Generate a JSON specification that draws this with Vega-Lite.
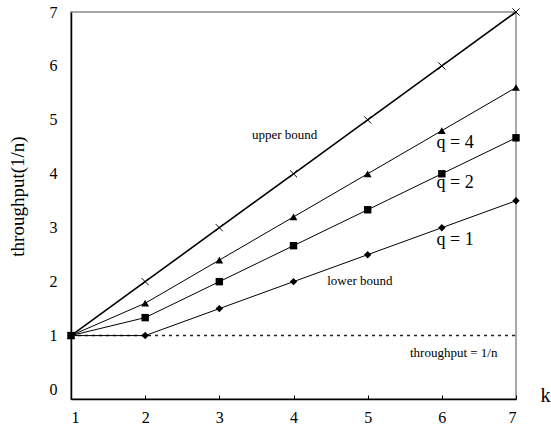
{
  "$schema": "https://vega.github.io/schema/vega-lite/v6.json",
  "width": 445,
  "height": 387,
  "autosize": "none",
  "padding": {"left": 71, "top": 12, "right": 35, "bottom": 26},
  "background": "white",
  "config": {
    "font": "Liberation Serif",
    "view": {"stroke": "#8a8a8a", "strokeWidth": 1.5},
    "axis": {"grid": false, "labelColor": "black", "domainColor": "black", "domainWidth": 1.5, "tickColor": "black", "labelFont": "Liberation Serif", "titleFont": "Liberation Serif", "titleFontWeight": "normal", "titleColor": "black", "labelFontSize": 16, "titleFontSize": 19}
  },
  "datasets": {
    "curves": [
      {"series": "upper", "k": 1, "t": 1}, {"series": "upper", "k": 2, "t": 2}, {"series": "upper", "k": 3, "t": 3}, {"series": "upper", "k": 4, "t": 4}, {"series": "upper", "k": 5, "t": 5}, {"series": "upper", "k": 6, "t": 6}, {"series": "upper", "k": 7, "t": 7},
      {"series": "q4", "k": 1, "t": 1}, {"series": "q4", "k": 2, "t": 1.6}, {"series": "q4", "k": 3, "t": 2.4}, {"series": "q4", "k": 4, "t": 3.2}, {"series": "q4", "k": 5, "t": 4}, {"series": "q4", "k": 6, "t": 4.8}, {"series": "q4", "k": 7, "t": 5.6},
      {"series": "q2", "k": 1, "t": 1}, {"series": "q2", "k": 2, "t": 1.333}, {"series": "q2", "k": 3, "t": 2}, {"series": "q2", "k": 4, "t": 2.667}, {"series": "q2", "k": 5, "t": 3.333}, {"series": "q2", "k": 6, "t": 4}, {"series": "q2", "k": 7, "t": 4.667},
      {"series": "q1", "k": 1, "t": 1}, {"series": "q1", "k": 2, "t": 1}, {"series": "q1", "k": 3, "t": 1.5}, {"series": "q1", "k": 4, "t": 2}, {"series": "q1", "k": 5, "t": 2.5}, {"series": "q1", "k": 6, "t": 3}, {"series": "q1", "k": 7, "t": 3.5}
    ],
    "base": [{"k": 1, "t": 1}, {"k": 7, "t": 1}],
    "labels": [
      {"label": "upper bound", "k": 3.88, "t": 4.71, "fs": "small"},
      {"label": "q = 4", "k": 6.18, "t": 4.565, "fs": "big"},
      {"label": "q = 2", "k": 6.18, "t": 3.82, "fs": "big"},
      {"label": "q = 1", "k": 6.18, "t": 2.77, "fs": "big"},
      {"label": "lower bound", "k": 4.895, "t": 2.006, "fs": "small"},
      {"label": "throughput = 1/n", "k": 6.16, "t": 0.67, "fs": "small"}
    ]
  },
  "encoding": {
    "x": {"field": "k", "type": "quantitative", "scale": {"domain": [1, 7], "nice": false, "zero": false},
      "axis": {"values": [1, 2, 3, 4, 5, 6, 7], "title": "k", "tickSize": -4, "labelPadding": 14, "titleFontSize": 20, "titleX": 474, "titleY": -4, "titleAlign": "center", "titleBaseline": "middle"}},
    "y": {"field": "t", "type": "quantitative", "scale": {"domain": [-0.176, 7], "nice": false, "zero": false},
      "axis": {"values": [0, 1, 2, 3, 4, 5, 6, 7], "title": "throughput(1/n)", "ticks": false, "labelPadding": 14, "titleX": -54, "titleY": 184, "titleAngle": -90, "titleAlign": "center", "titleBaseline": "middle"}}
  },
  "layer": [
    {"data": {"name": "base"}, "mark": {"type": "line", "color": "#222", "strokeWidth": 1.5, "strokeDash": [3, 4]}},
    {"data": {"name": "curves"}, "transform": [{"filter": "datum.series == 'upper'"}], "mark": {"type": "line", "color": "black", "strokeWidth": 1.6}},
    {"data": {"name": "curves"}, "transform": [{"filter": "datum.series != 'upper'"}], "mark": {"type": "line", "color": "black", "strokeWidth": 1}, "encoding": {"detail": {"field": "series"}}},
    {"data": {"name": "curves"}, "transform": [{"filter": "datum.series == 'upper'"}], "mark": {"type": "point", "shape": "M-1,-1L1,1M1,-1L-1,1", "filled": false, "stroke": "black", "strokeWidth": 1, "size": 50, "opacity": 1}},
    {"data": {"name": "curves"}, "transform": [{"filter": "datum.series == 'q4'"}], "mark": {"type": "point", "shape": "triangle-up", "filled": true, "color": "black", "opacity": 1, "size": 60}},
    {"data": {"name": "curves"}, "transform": [{"filter": "datum.series == 'q2'"}], "mark": {"type": "point", "shape": "square", "filled": true, "color": "black", "opacity": 1, "size": 55}},
    {"data": {"name": "curves"}, "transform": [{"filter": "datum.series == 'q1'"}], "mark": {"type": "point", "shape": "diamond", "filled": true, "color": "black", "opacity": 1, "size": 55}},
    {"data": {"name": "labels"}, "transform": [{"filter": "datum.fs == 'small'"}], "mark": {"type": "text", "color": "black", "align": "center", "baseline": "middle", "font": "Liberation Serif", "fontSize": 13},
      "encoding": {"text": {"field": "label"}}},
    {"data": {"name": "labels"}, "transform": [{"filter": "datum.fs == 'big'"}], "mark": {"type": "text", "color": "black", "align": "center", "baseline": "middle", "font": "Liberation Serif", "fontSize": 18},
      "encoding": {"text": {"field": "label"}}}
  ]
}
